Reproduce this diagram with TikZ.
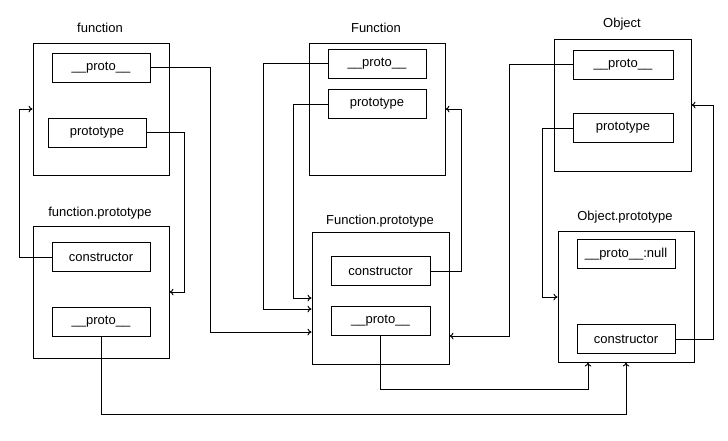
\documentclass[tikz,border=0pt]{standalone}
\usepackage{fontspec}
\setmainfont{Liberation Sans}
\usetikzlibrary{arrows.meta}
\begin{document}
\begin{tikzpicture}[x=0.75pt,y=-0.75pt,
  every node/.style={font=\fontsize{9.75}{12}\selectfont},
  outer/.style={draw,line width=0.75pt,inner sep=0pt,minimum width=102pt,minimum height=99pt},
  slot/.style={draw,line width=0.75pt,inner sep=0pt,minimum width=73.5pt,minimum height=21.75pt},
  title/.style={inner sep=0pt},
  arr/.style={line width=0.75pt,-{To[length=3pt,width=5pt]}},
  link/.style={line width=0.75pt}]
\useasboundingbox (0,0) rectangle (728,440);
% left column
\node[title] (tfun) at (100,28) {function};
\node[outer] (fbox) at (101,109) {};
\node[slot] (fproto) at (101,67.5) {\_\_proto\_\_};
\node[slot] (fprot) at (97,132.5) {prototype};
\node[title] (tfp) at (100,213) {function.prototype};
\node[outer] (fpbox) at (101,292) {};
\node[slot] (fpcons) at (101,257) {constructor};
\node[slot] (fpproto) at (101,321.5) {\_\_proto\_\_};
% middle column
\node[title] (tFun) at (376,28) {Function};
\node[outer] (Fbox) at (377,109) {};
\node[slot] (Fproto) at (377,63.5) {\_\_proto\_\_};
\node[slot] (Fprot) at (377,104) {prototype};
\node[title] (tFP) at (380,221) {Function.prototype};
\node[outer,minimum width=102.75pt] (FPbox) at (380.5,298) {};
\node[slot,minimum width=74.25pt] (FPcons) at (380.5,271) {constructor};
\node[slot,minimum width=74.25pt] (FPproto) at (380.5,321) {\_\_proto\_\_};
% right column
\node[title] (tObj) at (622,24) {Object};
\node[outer,minimum width=102.75pt] (Obox) at (622.5,105) {};
\node[slot,minimum width=75pt] (Oproto) at (623,64.5) {\_\_proto\_\_};
\node[slot,minimum width=75pt] (Oprot) at (623,128) {prototype};
\node[title] (tOP) at (625,217) {Object.prototype};
\node[outer,minimum height=98.25pt] (OPbox) at (626,296.5) {};
\node[slot] (OPnull) at (626,254) {\_\_proto\_\_:null};
\node[slot] (OPcons) at (626,339) {constructor};
% bend points
\coordinate (c1) at (210,332);
\coordinate (c2) at (184,292);
\coordinate (c3) at (19,109);
\coordinate (c4) at (626,414);
\coordinate (c5) at (263,309);
\coordinate (c6) at (293,298);
\coordinate (c7) at (461,109);
\coordinate (c8) at (588,389);
\coordinate (c9) at (509,336);
\coordinate (c10) at (542,297);
\coordinate (c11) at (713,105);
% connectors
\draw[arr] (fproto.east) -| (c1) -- (c1 -| FPbox.west);
\draw[arr] (fprot.east) -| (c2) -- (c2 -| fpbox.east);
\draw[arr] (fpcons.west) -| (c3) -- (c3 -| fbox.west);
\draw[arr] (fpproto.south) |- (c4) -- (c4 |- OPbox.south);
\draw[arr] (Fproto.west) -| (c5) -- (c5 -| FPbox.west);
\draw[arr] (Fprot.west) -| (c6) -- (c6 -| FPbox.west);
\draw[arr] (FPcons.east) -| (c7) -- (c7 -| Fbox.east);
\draw[arr] (FPproto.south) |- (c8) -- (c8 |- OPbox.south);
\draw[arr] (Oproto.west) -| (c9) -- (c9 -| FPbox.east);
\draw[arr] (Oprot.west) -| (c10) -- (c10 -| OPbox.west);
\draw[arr] (OPcons.east) -| (c11) -- (c11 -| Obox.east);
\end{tikzpicture}
\end{document}
